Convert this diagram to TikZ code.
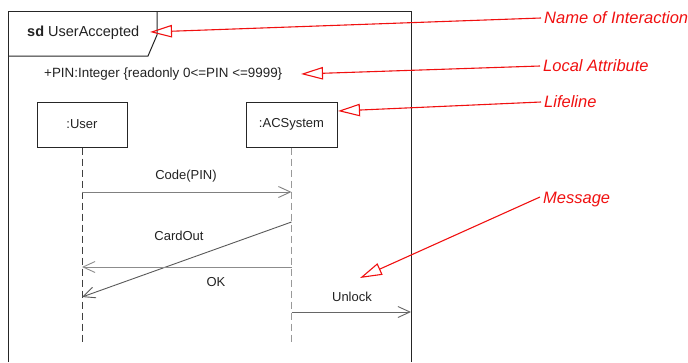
\documentclass[tikz,border=0pt]{standalone}
\usepackage{fontspec}
\setmainfont{Liberation Sans}
\usetikzlibrary{arrows.meta}
\definecolor{txt}{HTML}{222222}
\definecolor{annred}{HTML}{F01010}
\begin{document}
\begin{tikzpicture}[x=1pt,y=-1pt,
  frame/.style={draw=black!85, line width=1pt},
  lbox/.style={draw=black!85, line width=1pt, minimum height=45pt, text=txt, font=\fontsize{13}{15}\selectfont, inner sep=0pt},
  txtnode/.style={text=txt, inner sep=0pt, font=\fontsize{13}{15}\selectfont},
  lifeline/.style={dash pattern=on 7pt off 4pt, line width=1pt},
  msg/.style={line width=0.9pt, -{Straight Barb[length=12pt, width=11pt, line width=0.9pt]}},
  note/.style={text=annred, inner sep=3pt, anchor=west, font=\fontsize{16.5}{19}\selectfont\itshape},
  ann/.style={draw=annred, line width=1.1pt, -{Triangle[open, length=22pt, width=12.5pt, line width=1.1pt]}}
]
\useasboundingbox (0,0) rectangle (688,362);
% frame
\draw[frame] (8,362) -- (8,11) -- (411,11) -- (411,362);
\draw[frame] (8,56) -- (148,56) -- (157,35) -- (157,11);
\node[txtnode, anchor=west, font=\fontsize{14.5}{17}\selectfont] (title) at (27,33) {\textbf{sd} UserAccepted};
\node[txtnode, anchor=west, font=\fontsize{13.4}{15}\selectfont] (attr) at (44,74) {+PIN:Integer \{readonly 0<=PIN <=9999\}};
% lifelines
\node[lbox, minimum width=90pt] (user) at (82,124.5) {:User};
\node[lbox, minimum width=91pt] (acs) at (291.5,124.5) {:ACSystem};
\coordinate (uEnd) at (82,343);
\coordinate (aEnd) at (291.5,342);
\draw[lifeline, draw=black!75] (user.south) -- (uEnd);
\draw[lifeline, draw=black!40] (acs.south) -- (aEnd);
% message points
\coordinate (u1) at (82,192);
\coordinate (a1) at (291.5,192);
\coordinate (a2) at (291.5,222);
\coordinate (u2) at (82,297);
\coordinate (a3) at (291.5,267);
\coordinate (u3) at (82,267);
\coordinate (a4) at (291.5,312);
\coordinate (f4) at (411,312);
\draw[msg, draw=black!50] (u1) -- (a1);
\draw[msg, draw=black!65] (a2) -- (u2);
\draw[msg, draw=black!45] (a3) -- (u3);
\draw[msg, draw=black!60] (a4) -- (f4);
\node[txtnode] (lcode) at (186,176) {Code(PIN)};
\node[txtnode] (lcard) at (179,236) {CardOut};
\node[txtnode] (lok) at (216,282) {OK};
\node[txtnode] (lunlock) at (352,297) {Unlock};
% annotations
\node[note] (nName) at (541,18) {Name of Interaction};
\node[note] (nAttr) at (540,66) {Local Attribute};
\node[note] (nLife) at (541,102) {Lifeline};
\node[note] (nMsg) at (540,200) {Message};
\coordinate (tName) at (150,32);
\coordinate (tAttr) at (301,74);
\coordinate (tLife) at (338,111);
\coordinate (tMsg) at (360,278);
\draw[ann] (nName.west) -- (tName);
\draw[ann] (nAttr.west) -- (tAttr);
\draw[ann] (nLife.west) -- (tLife);
\draw[ann] ([yshift=3pt]nMsg.west) -- (tMsg);
\end{tikzpicture}
\end{document}
